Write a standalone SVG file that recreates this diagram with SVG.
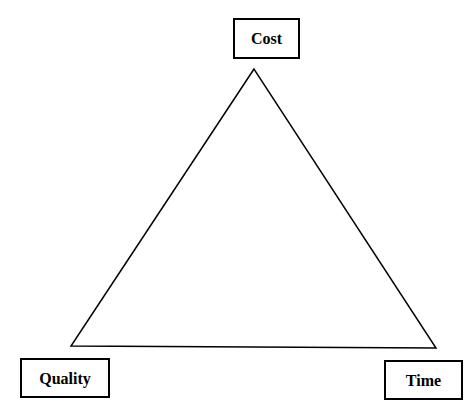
<svg xmlns="http://www.w3.org/2000/svg" width="474" height="411" viewBox="0 0 474 411">
<style>
.box{fill:#fff;stroke:#000;stroke-width:2}
.lbl{font-family:"Liberation Serif",serif;font-weight:bold;font-size:16px;fill:#000;text-anchor:middle}
.edge{fill:none;stroke:#000;stroke-width:1.5}
</style>
<rect width="474" height="411" fill="#fff"/>
<g id="connectors">
<path class="edge" d="M254,69 L71,346 L436,348 Z" stroke-linejoin="miter"/>
</g>
<g id="cost">
<rect class="box" x="234" y="19" width="65" height="39"/>
<text class="lbl" x="266.5" y="44">Cost</text>
</g>
<g id="quality">
<rect class="box" x="21" y="359" width="88" height="38"/>
<text class="lbl" x="65" y="384">Quality</text>
</g>
<g id="time">
<rect class="box" x="385" y="361" width="77" height="38"/>
<text class="lbl" x="423.5" y="386">Time</text>
</g>
</svg>
